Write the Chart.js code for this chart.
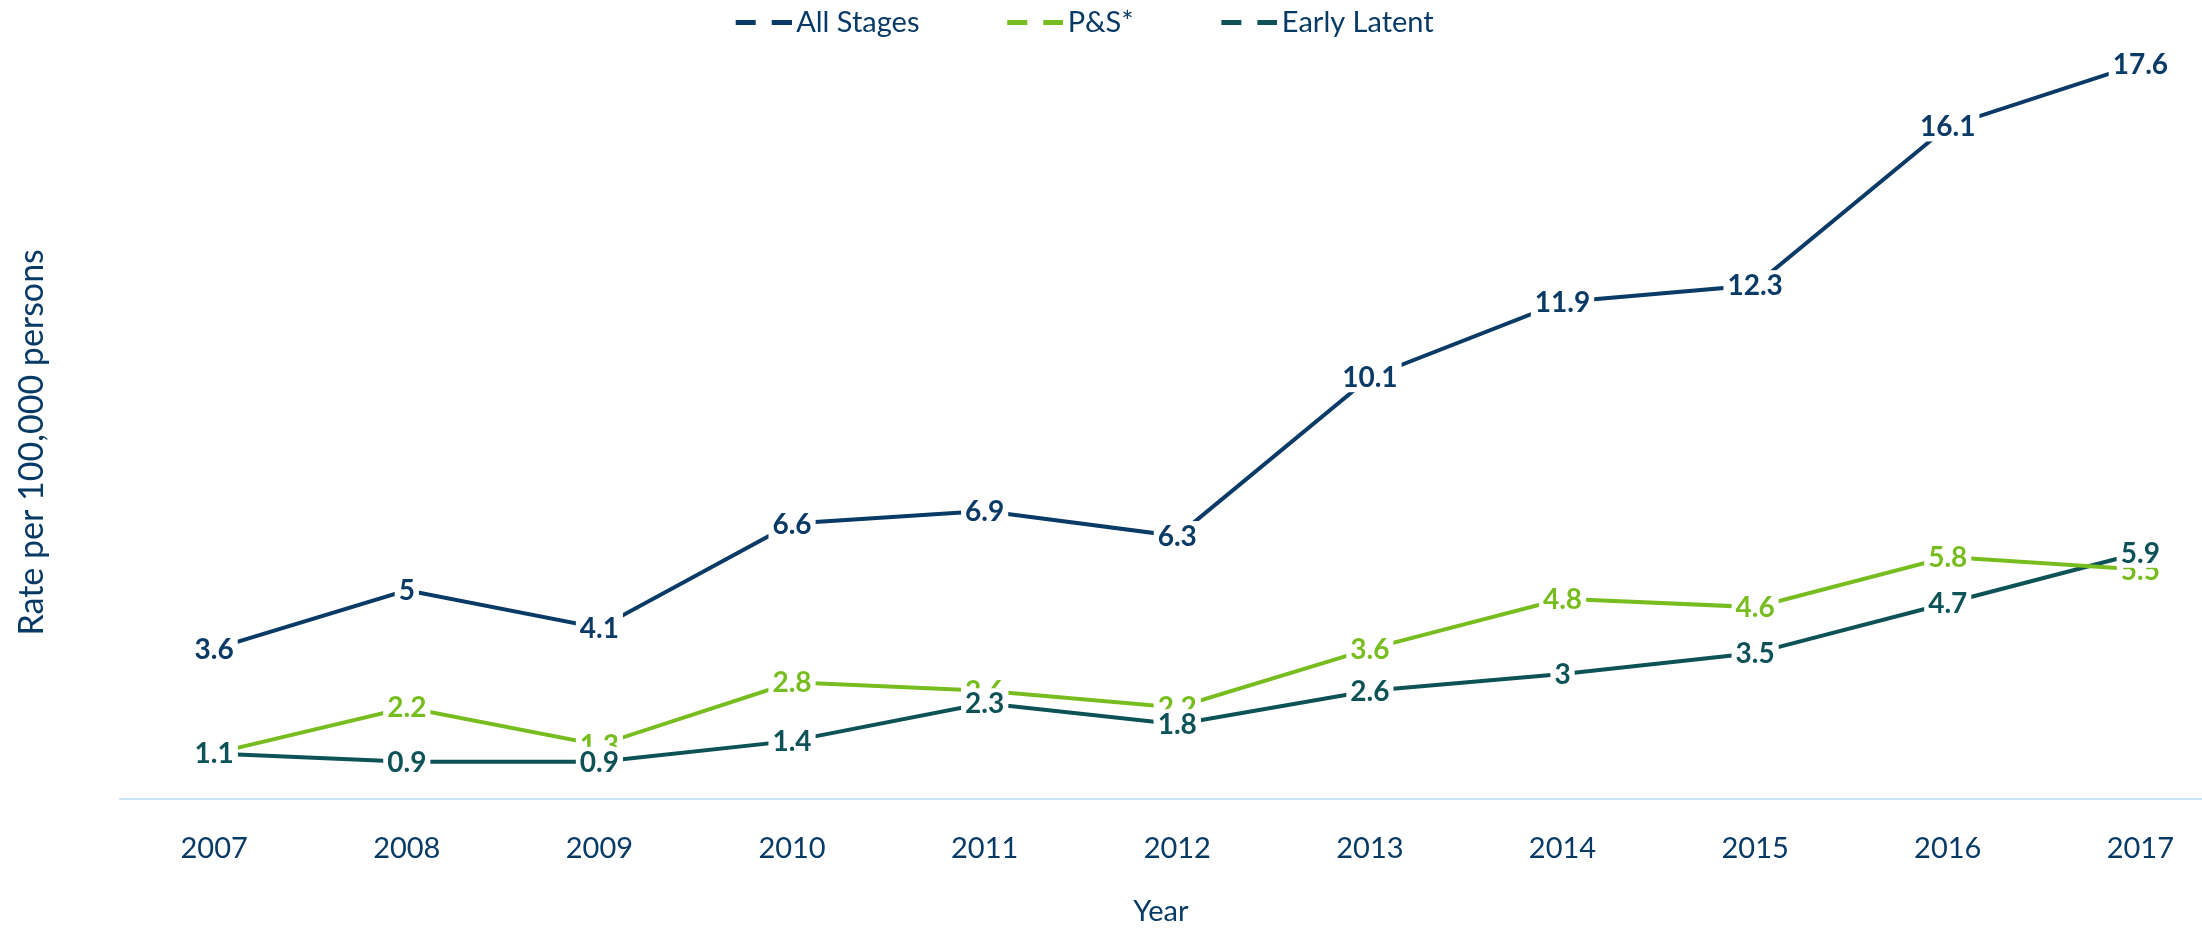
<!DOCTYPE html>
<html>
<head>
<meta charset="utf-8">
<script src="https://cdn.jsdelivr.net/npm/chart.js@4.4.1/dist/chart.umd.min.js"></script>
<style>
  body { margin: 0; background: #fff; }
  #wrap { width: 2202px; height: 929px; }
</style>
</head>
<body>
<div id="wrap"><canvas id="rateChart"></canvas></div>
<script>
const years = [2007, 2008, 2009, 2010, 2011, 2012, 2013, 2014, 2015, 2016, 2017];
const allStages = [3.6, 5, 4.1, 6.6, 6.9, 6.3, 10.1, 11.9, 12.3, 16.1, 17.6];
const psRates = [1.1, 2.2, 1.3, 2.8, 2.6, 2.2, 3.6, 4.8, 4.6, 5.8, 5.5];
const earlyLatent = [1.1, 0.9, 0.9, 1.4, 2.3, 1.8, 2.6, 3, 3.5, 4.7, 5.9];
const seriesNames = ['All Stages', 'P&S*', 'Early Latent'];

const navy = '#0a3a66';
const green = '#78bd1f';
const teal = '#0d5256';
const textColor = '#073b66';

Chart.defaults.font.family = "Lato, 'Open Sans', sans-serif";

function toPoints(vals) {
    return years.map((yr, i) => ({ x: yr, y: vals[i] }));
}

// little "– –" marker for the legend
function dashMarker(color) {
    const c = document.createElement('canvas');
    c.width = 66;
    c.height = 5;
    const g = c.getContext('2d');
    g.fillStyle = color;
    g.fillRect(10, 0, 20, 5);
    g.fillRect(46, 0, 20, 5);
    return c;
}

// value labels drawn on top of the lines, with a white box behind
const pointLabels = {
    id: 'pointLabels',
    afterDatasetsDraw(chart) {
        const ctx = chart.ctx;
        ctx.save();
        ctx.font = "bold 28px Lato, 'Open Sans', sans-serif";
        ctx.textAlign = 'center';
        ctx.textBaseline = 'middle';
        chart.data.datasets.forEach((ds, i) => {
            const meta = chart.getDatasetMeta(i);
            meta.data.forEach((pt, j) => {
                const txt = String(ds.data[j].y);
                const w = ctx.measureText(txt).width + 8;
                ctx.fillStyle = '#fff';
                ctx.fillRect(pt.x - w / 2, pt.y - 15, w, 30);
                ctx.fillStyle = ds.borderColor;
                ctx.fillText(txt, pt.x, pt.y + 1);
            });
        });
        ctx.restore();
    }
};

const gap = '\u2002\u2002\u2002\u2002\u2002\u2009\u2009';
const tailGap = '\u2002\u2002\u2009';

const ctx = document.getElementById('rateChart').getContext('2d');
const rateChart = new Chart(ctx, {
    type: 'line',
    data: {
        datasets: [{
            label: seriesNames[0],
            data: toPoints(allStages),
            borderColor: navy,
            backgroundColor: navy,
            borderWidth: 4,
            pointRadius: 0,
            tension: 0
        }, {
            label: seriesNames[1],
            data: toPoints(psRates),
            borderColor: green,
            backgroundColor: green,
            borderWidth: 4,
            pointRadius: 0,
            tension: 0
        }, {
            label: seriesNames[2],
            data: toPoints(earlyLatent),
            borderColor: teal,
            backgroundColor: teal,
            borderWidth: 4,
            pointRadius: 0,
            tension: 0
        }]
    },
    plugins: [pointLabels],
    options: {
        responsive: true,
        maintainAspectRatio: false,
        animation: false,
        layout: { padding: 0 },
        plugins: {
            tooltip: { enabled: false },
            legend: {
                position: 'top',
                labels: {
                    usePointStyle: true,
                    pointStyleWidth: 46,
                    padding: 8,
                    color: textColor,
                    font: { size: 29 },
                    generateLabels(chart) {
                        const n = chart.data.datasets.length;
                        return chart.data.datasets.map((ds, i) => ({
                            text: ds.label + (i < n - 1 ? gap : tailGap),
                            strokeStyle: ds.borderColor,
                            fillStyle: ds.borderColor,
                            fontColor: textColor,
                            lineWidth: 0,
                            pointStyle: dashMarker(ds.borderColor),
                            hidden: false,
                            datasetIndex: i
                        }));
                    }
                }
            }
        },
        scales: {
            x: {
                type: 'linear',
                min: 2006.51,
                max: 2017.32,
                grid: { display: false },
                border: { display: true, color: '#c8e6fa', width: 2 },
                afterBuildTicks(scale) {
                    scale.ticks = years.map(v => ({ value: v }));
                },
                ticks: {
                    color: textColor,
                    font: { size: 29 },
                    padding: 24,
                    autoSkip: false,
                    maxRotation: 0,
                    callback: v => String(v)
                },
                title: {
                    display: true,
                    text: 'Year',
                    color: textColor,
                    font: { size: 29 },
                    padding: { top: 4, bottom: 0 }
                }
            },
            y: {
                min: 0,
                max: 18,
                grid: { display: false },
                border: { display: false },
                ticks: { display: false },
                title: {
                    display: true,
                    text: 'Rate per 100,000 persons\u2002\u2002\u2009',
                    color: textColor,
                    font: { size: 34 },
                    padding: { top: 12, bottom: 59 }
                }
            }
        }
    }
});
</script>
</body>
</html>
